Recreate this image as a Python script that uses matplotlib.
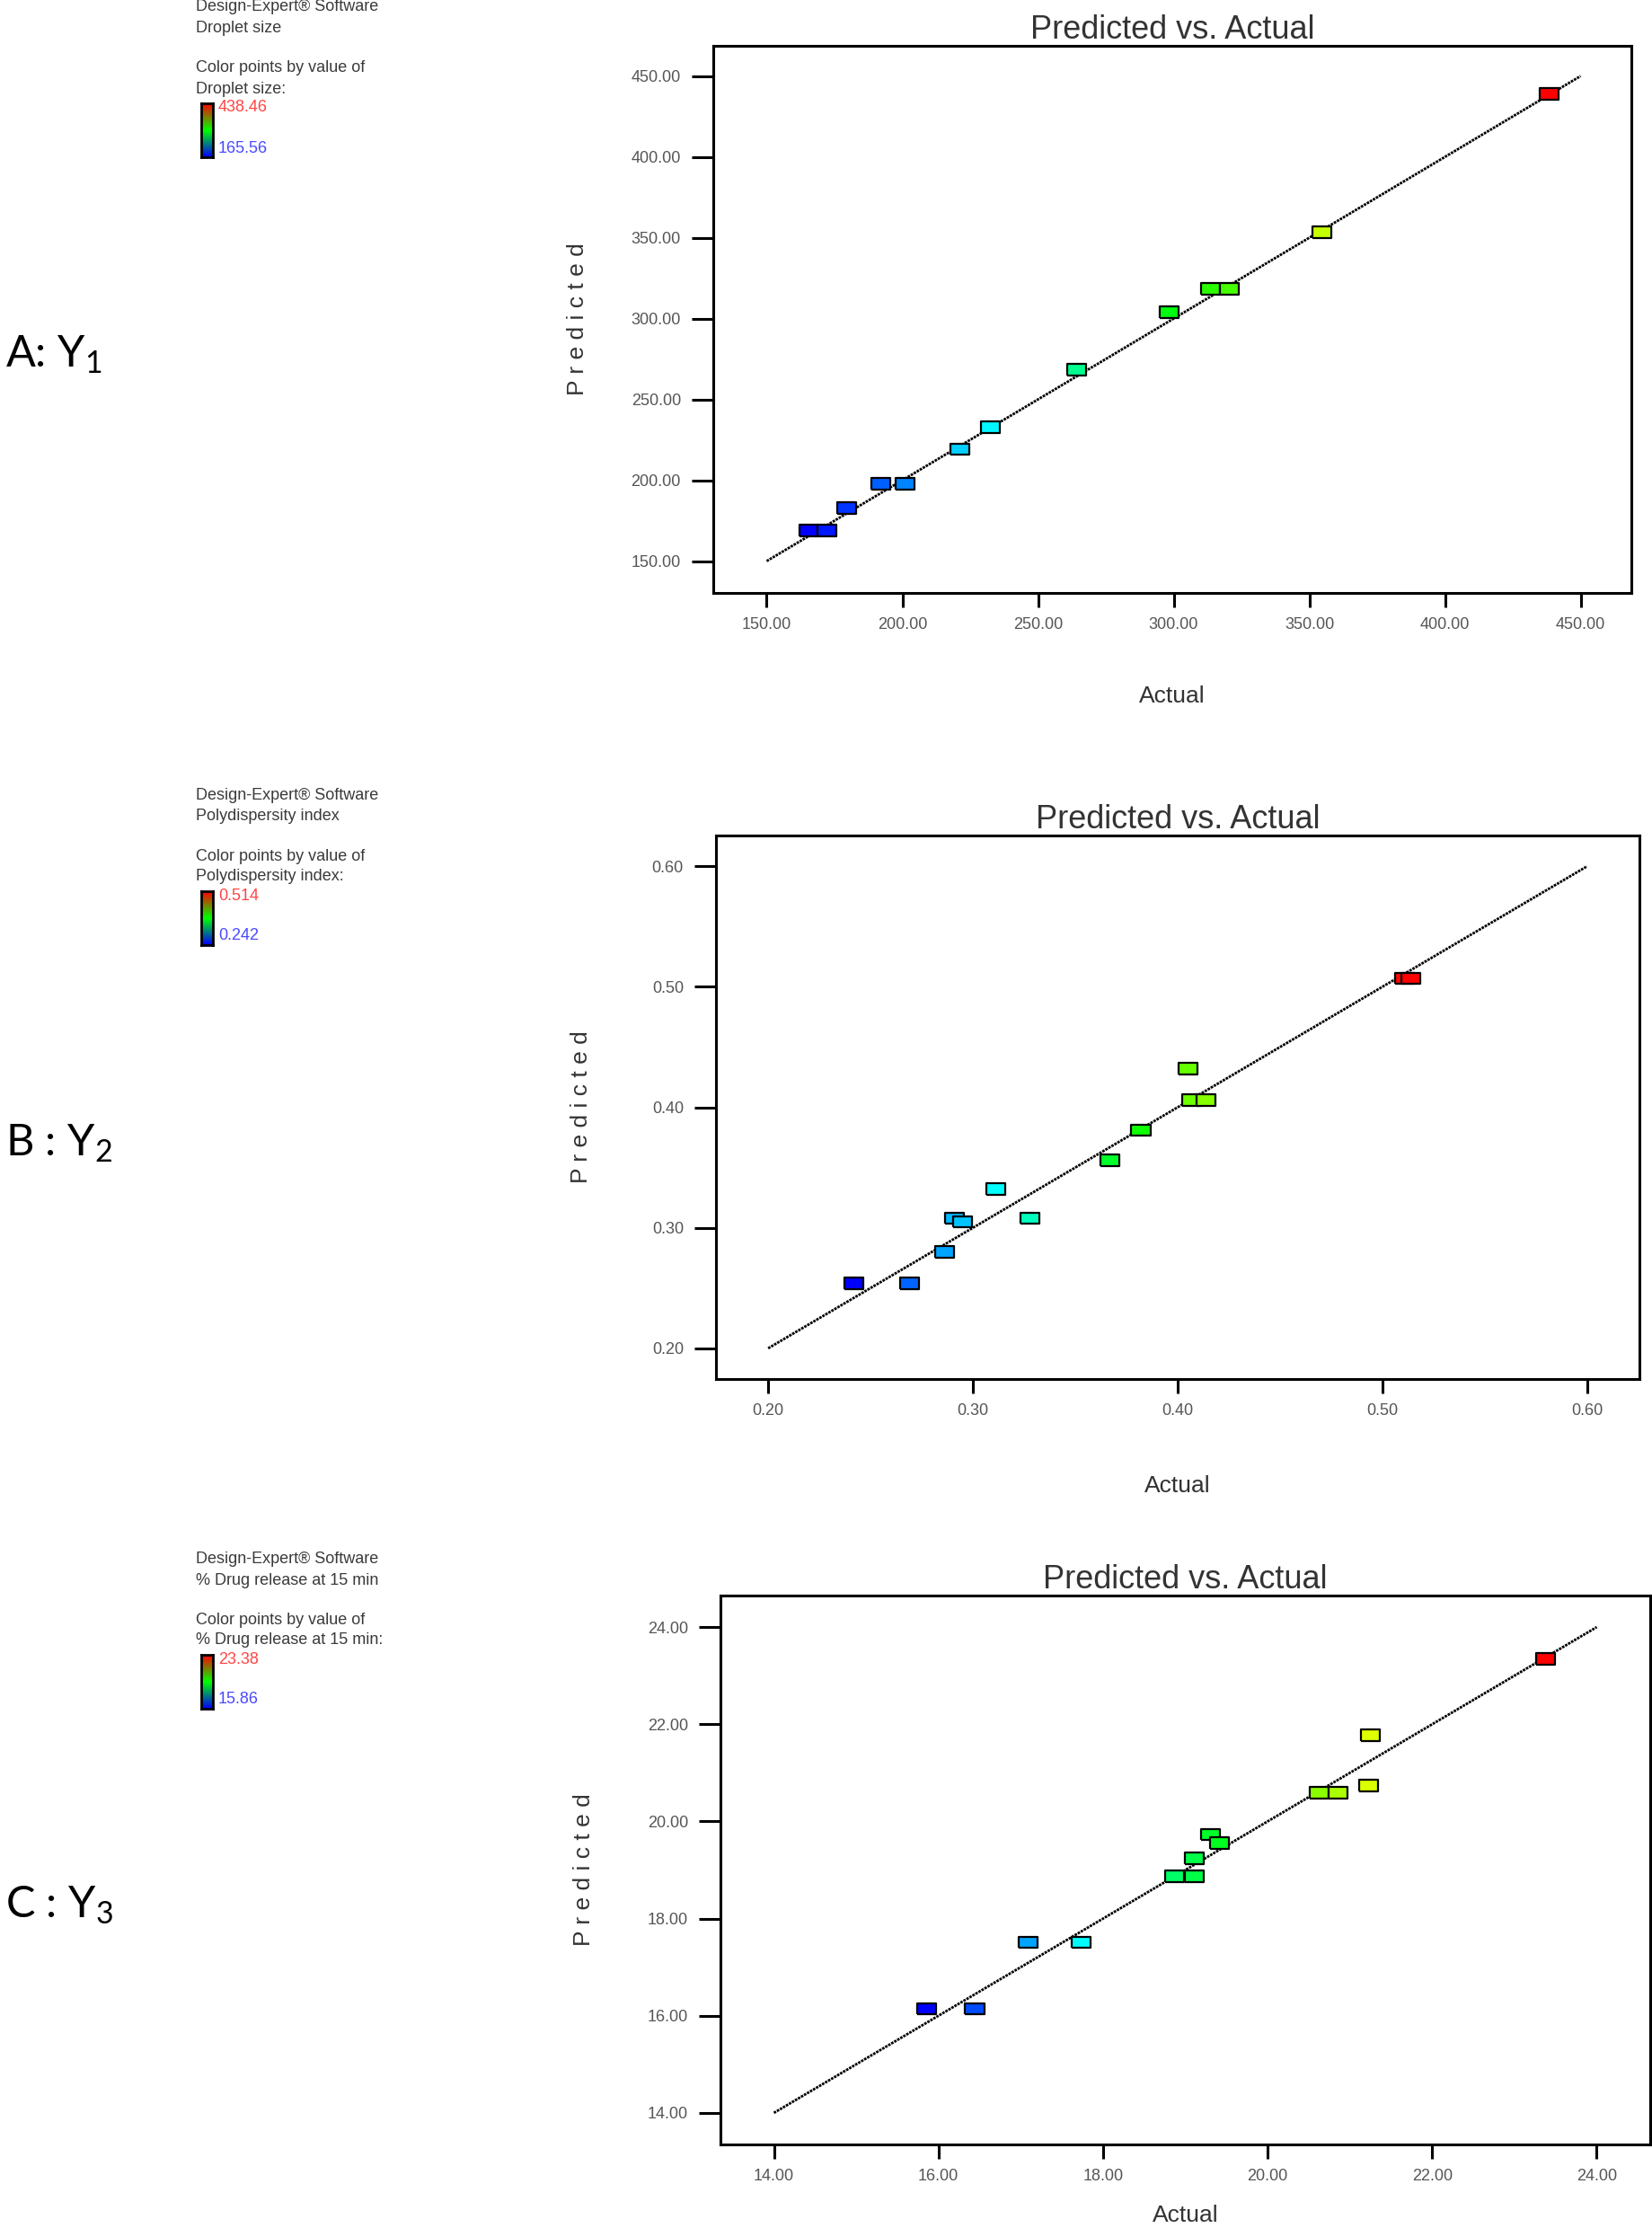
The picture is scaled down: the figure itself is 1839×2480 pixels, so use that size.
import numpy as np
import matplotlib
matplotlib.use('Agg')
from matplotlib import pyplot as plt
from matplotlib.colors import LinearSegmentedColormap, Normalize

W, H = 1839, 2480

plt.rcParams['font.family'] = ['Liberation Sans', 'DejaVu Sans']
plt.rcParams['mathtext.fontset'] = 'custom'
plt.rcParams['mathtext.rm'] = 'Lato'
plt.rcParams['mathtext.it'] = 'Lato'

# ---- data ----
y1_actual = [165.56, 172.1, 179.5, 191.9, 200.9, 221.1, 232.6, 264.3, 298.3, 313.6, 320.6, 354.6, 438.46]
y1_pred = [168.8, 168.8, 182.7, 197.8, 197.8, 219.2, 232.8, 268.4, 304.0, 318.5, 318.5, 353.4, 439.1]
y1_ticks = [150, 200, 250, 300, 350, 400, 450]

y2_actual = [0.242, 0.269, 0.286, 0.291, 0.295, 0.311, 0.328, 0.367, 0.382, 0.405, 0.407, 0.414, 0.511, 0.514]
y2_pred = [0.254, 0.254, 0.280, 0.308, 0.305, 0.332, 0.308, 0.356, 0.381, 0.432, 0.406, 0.406, 0.507, 0.507]
y2_ticks = [0.20, 0.30, 0.40, 0.50, 0.60]

y3_actual = [15.86, 16.44, 17.09, 17.73, 18.87, 19.11, 19.11, 19.31, 19.41, 20.63, 20.86, 21.23, 21.25, 23.38]
y3_pred = [16.14, 16.14, 17.51, 17.51, 18.87, 18.87, 19.24, 19.73, 19.55, 20.59, 20.59, 20.74, 21.78, 23.35]
y3_ticks = [14, 16, 18, 20, 22, 24]

responses = ['Droplet size', 'Polydispersity index', '% Drug release at 15 min']
range_labels = [('438.46', '165.56'), ('0.514', '0.242'), ('23.38', '15.86')]
panel_labels = [r'A: Y$_{1}$', r'B : Y$_{2}$', r'C : Y$_{3}$']

POINT_CMAP = LinearSegmentedColormap.from_list(
    'de', ['#0000ff', '#00ffff', '#00ff00', '#ffff00', '#ff0000'])
BAR_CMAP = LinearSegmentedColormap.from_list('bar', ['#0000ff', '#00ff00', '#ff0000'])

RECT = [(-1, -0.6), (1, -0.6), (1, 0.6), (-1, 0.6), (-1, -0.6)]


def fx(x):
    return x / W


def fy(y):
    return 1 - y / H


def add_ax(left, top, right, bottom):
    return fig.add_axes([fx(left), fy(bottom), (right - left) / W, (bottom - top) / H])


def pva_panel(box, actual, pred, ticks, lims, fmt, ylab_x, xlab_y):
    ax = add_ax(*box)
    norm = Normalize(min(actual), max(actual))
    lo, hi = ticks[0], ticks[-1]
    # 45 degree reference line
    ax.plot([lo, hi], [lo, hi], color='black', lw=2.0, ls=(0, (1, 0.4)), zorder=2)
    ax.scatter(actual, pred, c=actual, cmap=POINT_CMAP, norm=norm, marker=RECT,
               s=230, edgecolors='black', linewidths=1.6, zorder=3)
    ax.set_xlim(*lims)
    ax.set_ylim(*lims)
    ax.set_xticks(ticks)
    ax.set_yticks(ticks)
    ax.set_xticklabels([fmt % t for t in ticks])
    ax.set_yticklabels([fmt % t for t in ticks])
    for s in ax.spines.values():
        s.set_linewidth(2.2)
    ax.tick_params(axis='x', direction='out', length=11.5, width=2.2, pad=8,
                   labelsize=13, labelcolor='#555555')
    ax.tick_params(axis='y', direction='out', length=17, width=2.2, pad=9,
                   labelsize=13, labelcolor='#555555')
    ax.set_title('Predicted vs. Actual', fontsize=26, color='#333333', pad=5)
    ax.set_xlabel('Actual', fontsize=19, color='#333333')
    ax.set_ylabel('P r e d i c t e d', fontsize=19, color='#333333')
    w = box[2] - box[0]
    h = box[3] - box[1]
    ax.xaxis.set_label_coords(0.5, -(xlab_y - box[3]) / h)
    ax.yaxis.set_label_coords(-(box[0] - ylab_x) / w, 0.5)
    ax.xaxis.label.set_va('center')
    ax.yaxis.label.set_va('center')
    return ax


def legend_block(top, name, rng):
    kw = dict(fontsize=13, color='#3a3a3a', va='center', ha='left')
    fig.text(fx(218), fy(top), 'Design-Expert® Software', **kw)
    fig.text(fx(218), fy(top + 24), name, **kw)
    fig.text(fx(218), fy(top + 68), 'Color points by value of', **kw)
    fig.text(fx(218), fy(top + 91), name + ':', **kw)
    cax = add_ax(224, top + 107, 237, top + 167)
    grad = np.linspace(1, 0, 100).reshape(-1, 1)
    cax.imshow(grad, cmap=BAR_CMAP, aspect='auto')
    cax.set_xticks([])
    cax.set_yticks([])
    for s in cax.spines.values():
        s.set_linewidth(2)
    fig.text(fx(243), fy(top + 112), rng[0], fontsize=13, color='#ff4545', va='center')
    fig.text(fx(243), fy(top + 157), rng[1], fontsize=13, color='#4a4aff', va='center')


fig = plt.figure(figsize=(W / 100, H / 100), dpi=100)

pva_panel((794, 51, 1816, 660), y1_actual, y1_pred, y1_ticks, (130.3, 468.7), '%.2f', 643, 775)
pva_panel((797, 930, 1825, 1535), y2_actual, y2_pred, y2_ticks, (0.1745, 0.6255), '%.2f', 647, 1654)
pva_panel((802, 1776, 1837, 2387), y3_actual, y3_pred, y3_ticks, (13.35, 24.65), '%.2f', 650, 2466)

legend_block(8, responses[0], range_labels[0])
legend_block(885, responses[1], range_labels[1])
legend_block(1735, responses[2], range_labels[2])

for lab, yc in zip(panel_labels, [395, 1273, 2121]):
    fig.text(fx(6), fy(yc), lab, fontsize=35, family='Lato', color='black', va='center', ha='left')

plt.savefig('out.png', dpi=100)
